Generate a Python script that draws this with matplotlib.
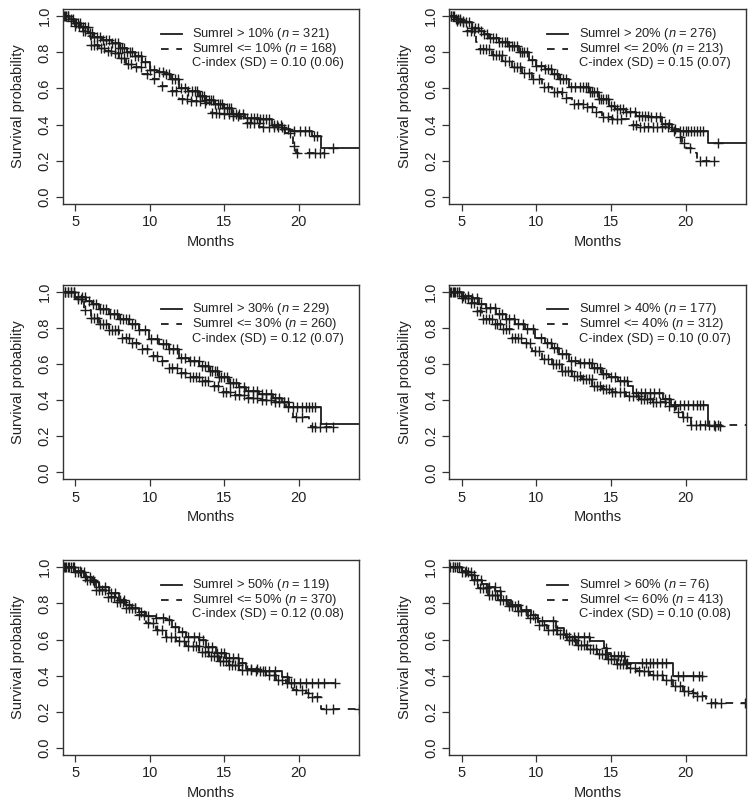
import numpy as np
import matplotlib
matplotlib.use("Agg")
import matplotlib.pyplot as plt

plt.rcParams["font.family"] = ["Liberation Sans", "DejaVu Sans"]
plt.rcParams["mathtext.fontset"] = "custom"
plt.rcParams["mathtext.rm"] = "Liberation Sans"
plt.rcParams["mathtext.it"] = "Liberation Sans:italic"
plt.rcParams["lines.scale_dashes"] = False

# cut-offs, group sizes and C-index per panel
cutoffs = [10, 20, 30, 40, 50, 60]
n_high = [321, 276, 229, 177, 119, 76]
n_low = [168, 213, 260, 312, 370, 413]
cindex = [(0.10, 0.06), (0.15, 0.07), (0.12, 0.07), (0.10, 0.07), (0.12, 0.08), (0.10, 0.08)]

# Kaplan-Meier knots (time in months, survival after that time)
km_high_10 = [(4.15, 1.0), (4.6, 0.985), (5.0, 0.963), (5.4, 0.94), (5.9, 0.908), (6.3, 0.885),
              (6.8, 0.871), (7.5, 0.853), (8.0, 0.825), (8.5, 0.80), (9.0, 0.779), (9.5, 0.745),
              (10.0, 0.705), (10.5, 0.69), (11.0, 0.678), (11.4, 0.65), (12.0, 0.604), (12.6, 0.586),
              (13.3, 0.558), (13.8, 0.535), (14.3, 0.515), (15.0, 0.494), (15.5, 0.457), (16.4, 0.438),
              (17.3, 0.429), (18.2, 0.40), (18.9, 0.374), (19.4, 0.365), (20.9, 0.337), (21.5, 0.269),
              (24.5, 0.269)]
km_low_10 = [(4.15, 1.0), (4.6, 0.975), (5.0, 0.945), (5.5, 0.92), (5.85, 0.89), (6.05, 0.843),
             (6.6, 0.825), (7.0, 0.81), (7.5, 0.795), (7.95, 0.77), (8.4, 0.733), (8.85, 0.72),
             (9.5, 0.678), (10.2, 0.65), (10.65, 0.613), (11.3, 0.586), (12.0, 0.54), (12.65, 0.53),
             (13.55, 0.521), (14.1, 0.466), (14.7, 0.457), (15.55, 0.447), (16.1, 0.43), (16.45, 0.41),
             (17.35, 0.389), (19.1, 0.355), (19.6, 0.282), (19.8, 0.241), (21.7, 0.241)]
km_high_20 = [(4.2, 1.0), (4.6, 0.985), (5.0, 0.97), (5.7, 0.936), (6.16, 0.917), (6.5, 0.9),
              (6.83, 0.88), (7.5, 0.857), (8.17, 0.835), (8.84, 0.80), (9.5, 0.76), (10.0, 0.725),
              (10.6, 0.706), (11.07, 0.68), (11.5, 0.65), (12.2, 0.61), (12.86, 0.606), (13.53, 0.578),
              (14.2, 0.54), (14.87, 0.505), (15.3, 0.486), (16.0, 0.468), (16.65, 0.45), (17.55, 0.44),
              (18.4, 0.404), (19.1, 0.367), (21.5, 0.30), (24.5, 0.30)]
km_low_20 = [(4.2, 1.0), (4.6, 0.975), (5.27, 0.92), (5.94, 0.855), (6.16, 0.82), (7.05, 0.785),
             (7.72, 0.755), (8.4, 0.72), (9.06, 0.685), (9.73, 0.65), (10.4, 0.61), (11.07, 0.58),
             (11.74, 0.55), (12.41, 0.515), (13.3, 0.495), (13.97, 0.47), (14.4, 0.44), (15.1, 0.43),
             (16.4, 0.40), (16.9, 0.385), (18.9, 0.375), (19.55, 0.33), (19.78, 0.30), (20.0, 0.27),
             (20.67, 0.245), (20.8, 0.20), (21.9, 0.20)]
km_high_30 = [(4.15, 1.0), (5.0, 0.97), (5.72, 0.948), (6.16, 0.93), (6.6, 0.902), (7.28, 0.875),
              (7.95, 0.847), (8.62, 0.82), (9.3, 0.786), (9.98, 0.737), (10.64, 0.709), (11.3, 0.681),
              (12.0, 0.635), (12.65, 0.617), (13.32, 0.589), (14.0, 0.562), (14.64, 0.525), (15.34, 0.497),
              (16.0, 0.473), (16.45, 0.451), (17.35, 0.433), (18.24, 0.414), (18.9, 0.387), (19.36, 0.359),
              (21.5, 0.27), (24.5, 0.27)]
km_low_30 = [(4.15, 1.0), (5.0, 0.958), (5.6, 0.90), (6.05, 0.856), (6.6, 0.82), (7.28, 0.79),
             (7.95, 0.746), (8.62, 0.718), (9.3, 0.681), (9.98, 0.645), (10.64, 0.617), (11.3, 0.58),
             (12.0, 0.552), (12.65, 0.525), (13.32, 0.506), (14.0, 0.479), (14.64, 0.442), (15.55, 0.429),
             (16.45, 0.411), (17.35, 0.40), (18.24, 0.387), (19.14, 0.359), (19.6, 0.304), (20.7, 0.289),
             (20.8, 0.249), (22.3, 0.249)]
km_high_40 = [(4.2, 1.0), (5.0, 0.976), (5.7, 0.967), (6.16, 0.93), (6.6, 0.91), (7.27, 0.875),
              (7.94, 0.847), (8.6, 0.82), (9.27, 0.792), (9.94, 0.746), (10.6, 0.718), (11.05, 0.69),
              (11.5, 0.654), (12.17, 0.617), (12.84, 0.608), (13.73, 0.58), (14.4, 0.543), (14.84, 0.525),
              (15.5, 0.506), (16.17, 0.479), (16.5, 0.44), (18.5, 0.405), (19.0, 0.372), (21.5, 0.258),
              (22.3, 0.258)]
km_low_40 = [(4.2, 1.0), (5.0, 0.967), (5.47, 0.94), (5.94, 0.893), (6.38, 0.847), (7.05, 0.82),
             (7.72, 0.792), (8.4, 0.746), (9.06, 0.718), (9.72, 0.672), (10.4, 0.626), (11.05, 0.60),
             (11.7, 0.562), (12.37, 0.535), (13.04, 0.516), (13.73, 0.479), (14.4, 0.46), (15.1, 0.442),
             (16.0, 0.424), (16.9, 0.405), (17.8, 0.387), (18.7, 0.368), (19.35, 0.332), (19.8, 0.304),
             (20.35, 0.264), (24.5, 0.264)]
km_high_50 = [(4.15, 1.0), (5.0, 0.98), (5.6, 0.948), (6.16, 0.92), (6.6, 0.893), (7.28, 0.856),
              (7.95, 0.82), (8.4, 0.79), (8.85, 0.773), (9.3, 0.755), (9.74, 0.73), (10.4, 0.718),
              (11.08, 0.708), (11.53, 0.672), (12.0, 0.644), (12.43, 0.616), (13.32, 0.598), (13.77, 0.56),
              (14.44, 0.524), (15.1, 0.496), (16.0, 0.469), (16.45, 0.435), (17.35, 0.428), (18.9, 0.395),
              (19.36, 0.358), (22.4, 0.358)]
km_low_50 = [(4.15, 1.0), (5.0, 0.976), (5.72, 0.93), (6.39, 0.875), (7.06, 0.838), (7.73, 0.81),
             (8.4, 0.773), (9.07, 0.736), (9.74, 0.69), (10.4, 0.653), (11.08, 0.616), (11.75, 0.589),
             (12.43, 0.565), (13.32, 0.533), (14.0, 0.506), (14.64, 0.483), (15.3, 0.46), (16.0, 0.432),
             (16.9, 0.423), (17.8, 0.404), (18.47, 0.376), (19.14, 0.358), (19.6, 0.321), (20.5, 0.303),
             (20.7, 0.284), (21.5, 0.214), (24.5, 0.214)]
km_high_60 = [(4.16, 1.0), (5.0, 0.98), (5.44, 0.957), (5.88, 0.93), (6.33, 0.91), (6.77, 0.893),
              (7.21, 0.866), (7.65, 0.82), (8.32, 0.79), (8.98, 0.765), (9.65, 0.737), (10.09, 0.70),
              (11.3, 0.663), (11.86, 0.627), (12.0, 0.614), (13.63, 0.59), (14.51, 0.553), (14.75, 0.525),
              (15.0, 0.507), (15.95, 0.47), (19.15, 0.397), (21.1, 0.397)]
km_low_60 = [(4.16, 1.0), (5.0, 0.975), (5.66, 0.93), (6.1, 0.884), (6.77, 0.848), (7.43, 0.82),
             (8.1, 0.784), (8.76, 0.757), (9.42, 0.72), (10.09, 0.683), (10.75, 0.655), (11.42, 0.628),
             (12.08, 0.60), (12.74, 0.572), (13.41, 0.545), (14.07, 0.517), (14.73, 0.49), (15.4, 0.462),
             (16.06, 0.443), (16.73, 0.425), (17.61, 0.406), (18.5, 0.378), (19.16, 0.342), (19.82, 0.314),
             (20.49, 0.305), (20.71, 0.286), (21.37, 0.25), (24.5, 0.25)]

# censoring times (the "+" marks), read as dense clusters along each curve
cens_high_10 = [4.25, 4.4, 4.55, 4.7, 4.85, 5.05, 5.2, 5.35, 5.55, 5.7, 5.85, 6.0, 6.15, 6.3, 6.5,
                6.7, 6.9, 7.1, 7.3, 7.5, 7.7, 7.85, 8.0, 8.15, 8.3, 8.5, 8.7, 8.85, 9.0, 9.2, 9.4,
                9.7, 10.0, 10.3, 10.6, 10.9, 11.1, 11.3, 11.5, 11.7, 11.9, 12.1, 12.35, 12.6, 12.85,
                13.05, 13.2, 13.35, 13.5, 13.65, 13.8, 13.95, 14.1, 14.25, 14.4, 14.55, 14.7, 14.85,
                15.0, 15.15, 15.3, 15.45, 15.6, 15.8, 16.0, 16.25, 16.5, 16.8, 17.0, 17.2, 17.4, 17.6,
                17.8, 18.0, 18.3, 18.55, 18.8, 19.0, 19.3, 19.7, 20.1, 20.4, 20.7, 21.0, 21.2, 22.3]
cens_low_10 = [4.3, 4.5, 4.75, 5.0, 5.25, 5.5, 5.7, 6.1, 6.3, 6.5, 6.75, 6.95, 7.2, 7.4, 7.65,
               7.85, 8.1, 8.3, 8.55, 8.75, 9.1, 9.4, 9.8, 10.3, 10.8, 11.5, 11.75, 12.2, 12.5, 12.8,
               13.1, 13.35, 13.7, 14.2, 14.45, 14.65, 15.0, 15.3, 15.6, 15.9, 16.5, 16.75, 17.0,
               17.3, 17.6, 18.0, 18.3, 18.6, 18.9, 19.4, 19.7, 19.9, 20.7, 21.1, 21.4, 21.7]
cens_high_20 = [4.3, 4.45, 4.6, 4.75, 4.9, 5.1, 5.3, 5.5, 5.7, 5.9, 6.1, 6.3, 6.5, 6.7, 6.9, 7.1,
                7.3, 7.5, 7.7, 7.9, 8.05, 8.2, 8.35, 8.5, 8.7, 8.9, 9.05, 9.2, 9.4, 9.7, 10.0, 10.3,
                10.6, 10.8, 11.0, 11.2, 11.4, 11.6, 11.8, 12.0, 12.3, 12.6, 12.9, 13.1, 13.3, 13.45,
                13.6, 13.75, 13.9, 14.05, 14.2, 14.35, 14.5, 14.65, 14.8, 15.0, 15.2, 15.4, 15.6,
                15.8, 16.0, 16.3, 16.6, 16.9, 17.1, 17.3, 17.5, 17.7, 18.0, 18.3, 18.6, 18.9, 19.2,
                19.6, 19.8, 20.0, 20.2, 20.4, 20.6, 20.8, 21.0, 21.2, 22.2]
cens_low_20 = [4.3, 4.5, 4.7, 4.9, 5.1, 5.35, 5.6, 5.8, 6.25, 6.45, 6.65, 6.85, 7.1, 7.3, 7.5,
               7.7, 7.9, 8.2, 8.5, 8.7, 8.9, 9.2, 9.5, 9.8, 10.2, 10.5, 10.8, 11.2, 11.4, 11.7, 12.0,
               12.5, 12.8, 13.1, 13.4, 13.7, 14.0, 14.5, 14.8, 15.1, 15.4, 15.7, 16.5, 16.7, 16.95,
               17.2, 17.5, 17.8, 18.1, 18.4, 18.8, 19.3, 19.6, 19.9, 20.3, 21.0, 21.4, 21.9]
cens_high_30 = [4.3, 4.5, 4.7, 4.9, 5.2, 5.45, 5.7, 5.95, 6.2, 6.4, 6.65, 6.9, 7.1, 7.35, 7.6,
                7.8, 8.0, 8.2, 8.4, 8.6, 8.8, 9.0, 9.3, 9.7, 10.1, 10.5, 10.9, 11.1, 11.3, 11.55,
                11.8, 12.1, 12.4, 12.7, 13.0, 13.3, 13.5, 13.7, 13.9, 14.05, 14.2, 14.35, 14.5, 14.65,
                14.8, 15.0, 15.2, 15.4, 15.6, 15.8, 16.0, 16.3, 16.6, 16.9, 17.2, 17.5, 17.8, 18.1,
                18.4, 18.7, 19.0, 19.3, 19.6, 19.9, 20.2, 20.5, 20.7, 20.9, 21.1]
cens_low_30 = [4.3, 4.5, 4.7, 4.95, 5.2, 5.4, 5.7, 6.1, 6.3, 6.5, 6.7, 6.9, 7.1, 7.3, 7.5, 7.7,
               7.9, 8.15, 8.4, 8.6, 8.8, 9.1, 9.5, 9.8, 10.2, 10.5, 10.8, 11.3, 11.5, 11.8, 12.1,
               12.4, 12.7, 12.9, 13.1, 13.3, 13.5, 13.7, 13.9, 14.3, 14.6, 14.9, 15.1, 15.4, 15.7,
               16.0, 16.3, 16.6, 16.9, 17.2, 17.5, 17.8, 18.1, 18.4, 18.7, 19.0, 19.3, 19.8, 20.2,
               20.9, 21.1, 21.4, 21.8, 22.3]
cens_high_40 = [4.3, 4.5, 4.8, 5.1, 5.4, 5.7, 6.0, 6.3, 6.6, 6.9, 7.2, 7.5, 7.7, 7.95, 8.2, 8.5,
                8.8, 9.1, 9.4, 9.8, 10.3, 10.7, 11.0, 11.2, 11.4, 11.7, 12.0, 12.3, 12.6, 12.9, 13.2,
                13.5, 13.7, 13.9, 14.1, 14.3, 14.5, 14.7, 15.0, 15.3, 15.6, 15.9, 16.1, 16.7, 17.0,
                17.3, 17.6, 17.9, 18.2, 18.6, 18.9, 19.3, 19.6, 19.9, 20.2, 20.5, 20.8, 21.0, 21.2,
                22.0, 22.3]
cens_low_40 = [4.25, 4.4, 4.55, 4.7, 4.85, 5.0, 5.2, 5.4, 5.6, 5.8, 6.0, 6.2, 6.4, 6.6, 6.8, 7.0,
               7.2, 7.4, 7.6, 7.8, 8.0, 8.2, 8.4, 8.6, 8.8, 9.0, 9.3, 9.6, 9.9, 10.2, 10.5, 10.8,
               11.1, 11.3, 11.5, 11.7, 11.9, 12.1, 12.3, 12.5, 12.7, 12.9, 13.1, 13.3, 13.5, 13.7,
               13.9, 14.1, 14.3, 14.5, 14.7, 14.9, 15.1, 15.3, 15.6, 15.9, 16.2, 16.5, 16.8, 17.0,
               17.2, 17.4, 17.6, 17.8, 18.0, 18.3, 18.6, 18.9, 19.2, 19.5, 19.8, 20.1, 20.4, 20.7,
               21.0, 21.3, 21.6, 21.9, 22.2]
cens_high_50 = [4.3, 4.6, 4.9, 5.3, 5.7, 6.0, 6.3, 6.6, 7.0, 7.4, 7.7, 8.0, 8.3, 8.6, 9.0, 9.4,
                9.9, 10.4, 10.9, 11.3, 11.7, 12.2, 12.6, 13.0, 13.3, 13.6, 13.9, 14.2, 14.5, 14.8,
                15.0, 15.3, 15.6, 15.9, 16.2, 16.8, 17.2, 17.6, 18.0, 18.4, 19.2, 19.7, 20.1, 20.5,
                20.9, 21.3, 21.7, 22.4]
cens_low_50 = [4.25, 4.4, 4.55, 4.7, 4.85, 5.0, 5.2, 5.4, 5.6, 5.8, 6.0, 6.2, 6.4, 6.6, 6.8, 7.0,
               7.2, 7.4, 7.6, 7.8, 8.0, 8.2, 8.4, 8.6, 8.8, 9.0, 9.3, 9.6, 9.9, 10.2, 10.5, 10.8,
               11.1, 11.4, 11.7, 12.0, 12.3, 12.6, 12.9, 13.1, 13.3, 13.5, 13.7, 13.9, 14.1, 14.3,
               14.5, 14.7, 14.9, 15.1, 15.3, 15.5, 15.7, 15.9, 16.2, 16.5, 16.8, 17.1, 17.4, 17.7,
               18.0, 18.3, 18.6, 18.9, 19.2, 19.5, 19.8, 20.2, 20.6, 20.9, 21.2, 21.8, 22.3, 24.0]
cens_high_60 = [4.4, 4.8, 5.3, 5.8, 6.3, 6.8, 7.2, 7.6, 8.0, 8.4, 8.8, 9.3, 9.8, 10.4, 11.1, 12.2,
                12.5, 12.8, 13.2, 13.5, 14.7, 15.2, 15.45, 15.7, 15.9, 16.1, 17.1, 17.35, 17.6,
                17.85, 18.1, 18.4, 18.7, 19.5, 19.8, 20.5, 20.9, 21.1]
cens_low_60 = [4.25, 4.4, 4.55, 4.7, 4.85, 5.0, 5.2, 5.4, 5.6, 5.8, 6.0, 6.2, 6.4, 6.6, 6.8, 7.0,
               7.2, 7.4, 7.6, 7.8, 8.0, 8.2, 8.4, 8.6, 8.8, 9.0, 9.3, 9.6, 9.9, 10.2, 10.5, 10.8,
               11.1, 11.4, 11.6, 11.8, 12.0, 12.2, 12.4, 12.6, 12.8, 13.0, 13.2, 13.4, 13.6, 13.8,
               14.0, 14.2, 14.4, 14.6, 14.8, 15.0, 15.2, 15.4, 15.6, 15.8, 16.0, 16.3, 16.6, 16.9,
               17.2, 17.5, 17.8, 18.1, 18.4, 18.7, 19.0, 19.3, 19.6, 19.9, 20.2, 20.5, 20.8, 21.1,
               21.7, 22.0, 22.4, 24.0]

x_ticks = [5, 10, 15, 20]
y_ticks = [0.0, 0.2, 0.4, 0.6, 0.8, 1.0]

panels = [
    (km_high_10, km_low_10, cens_high_10, cens_low_10),
    (km_high_20, km_low_20, cens_high_20, cens_low_20),
    (km_high_30, km_low_30, cens_high_30, cens_low_30),
    (km_high_40, km_low_40, cens_high_40, cens_low_40),
    (km_high_50, km_low_50, cens_high_50, cens_low_50),
    (km_high_60, km_low_60, cens_high_60, cens_low_60),
]

INK = "#1c1c1c"
DASH = (0, (5.5, 5.5))
col_left = [0.0830, 0.5951]
row_bottom = [0.7478, 0.4073, 0.0667]
AX_W, AX_H = 0.3925, 0.2410


def draw_km(ax, knots, cens, ls):
    t = np.array([k[0] for k in knots])
    s = np.array([k[1] for k in knots])
    ax.step(t, s, where="post", color=INK, lw=1.3, linestyle=ls)
    c = np.array(cens)
    c = c[c <= t[-1]]
    idx = np.searchsorted(t, c, side="right") - 1
    ax.plot(c, s[idx], linestyle="none", marker="+", ms=7.5, mew=1.0, color=INK)


def main():
    fig = plt.figure(figsize=(7.55, 8.09), dpi=100)
    for i, (hi, lo, ch, cl) in enumerate(panels):
        r, col = divmod(i, 2)
        ax = fig.add_axes([col_left[col], row_bottom[r], AX_W, AX_H])
        draw_km(ax, lo, cl, DASH)
        draw_km(ax, hi, ch, "-")

        ax.set_xlim(4.17, 24.03)
        ax.set_ylim(-0.04, 1.04)
        ax.set_xticks(x_ticks)
        ax.set_yticks(y_ticks)
        ax.set_yticklabels([f"{v:.1f}" for v in y_ticks], rotation=90, va="center")
        ax.tick_params(direction="out", length=5, width=0.9, color="#333333",
                       labelsize=10.5, labelcolor="#222222", pad=3)
        for sp in ax.spines.values():
            sp.set_color("#333333")
            sp.set_linewidth(1.0)
        ax.set_xlabel("Months", fontsize=10.5, color="#222222", labelpad=4)
        ax.set_ylabel("Survival probability", fontsize=10.5, color="#222222", labelpad=9)

        # legend, R style: sample lines + left aligned text, no frame
        cut = cutoffs[i]
        labels = [f"Sumrel > {cut}% ($n$ = {n_high[i]})",
                  f"Sumrel <= {cut}% ($n$ = {n_low[i]})",
                  f"C-index (SD) = {cindex[i][0]:.2f} ({cindex[i][1]:.2f})"]
        styles = ["-", DASH, None]
        for j, (lab, st) in enumerate(zip(labels, styles)):
            yy = 0.872 - j * 0.075
            if st is not None:
                ax.plot([0.331, 0.402], [yy, yy], transform=ax.transAxes, color=INK,
                        lw=1.3, linestyle=st)
            ax.text(0.437, yy, lab, transform=ax.transAxes, fontsize=9.3, va="center",
                    ha="left", color="#222222")

    fig.savefig("out.png", dpi=100)
    plt.close(fig)


if __name__ == "__main__":
    main()
